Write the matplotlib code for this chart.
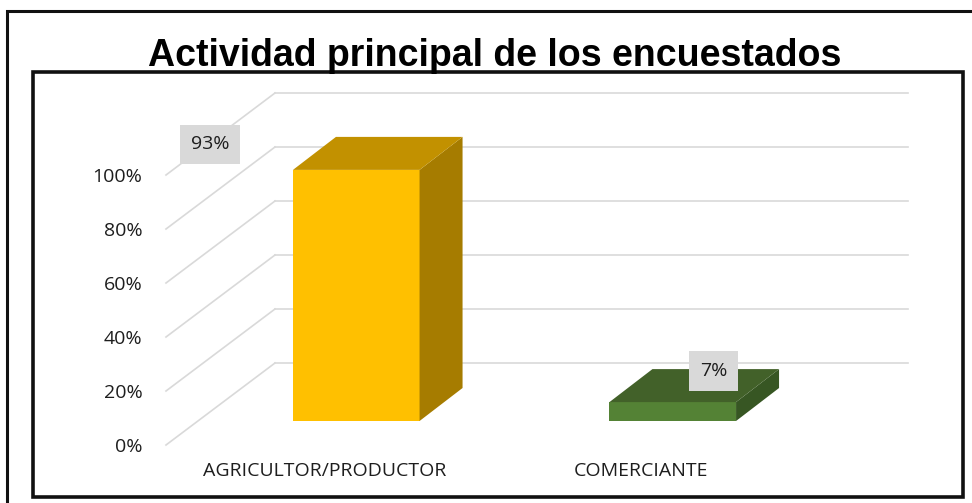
import matplotlib
matplotlib.use("Agg")
import matplotlib.pyplot as plt
from matplotlib.patches import Polygon, Rectangle
from matplotlib.transforms import Affine2D

# data
categories = ["AGRICULTOR/PRODUCTOR", "COMERCIANTE"]
values = [0.93, 0.07]
value_labels = ["93%", "7%"]
label_pos = [(-0.36, 1.113), (1.23, 0.274)]
ticks = [0.0, 0.2, 0.4, 0.6, 0.8, 1.0]
tick_labels = ["0%", "20%", "40%", "60%", "80%", "100%"]

front_colors = ["#FFC000", "#548235"]
top_colors = ["#C29100", "#426129"]
side_colors = ["#A67C00", "#375623"]

# depth offsets in pixels (oblique projection of the 3D chart)
WALL_DX, WALL_DY = 109, 82
BAR_DX, BAR_DY = 32, 24
BAR_DEPTH_X, BAR_DEPTH_Y = 43, 33
BAR_WIDTH = 0.40
GRID = "#D9D9D9"
TEXT = "#1E1E1E"

fig = plt.figure(figsize=(9.72, 5.03), dpi=100)
fig.patch.set_facecolor("white")

# outer frame (runs off right/bottom edges) and inner chart frame
top_y = 1 - 11 / 503
fig.patches.append(Rectangle((7 / 972, -0.2), 1.2, top_y + 0.2,
                             transform=fig.transFigure, fill=False, lw=2.2, ec="#111111"))
fig.patches.append(Rectangle((33 / 972, 6 / 503), 930 / 972, 425 / 503,
                             transform=fig.transFigure, fill=False, lw=2.6, ec="#111111"))

fig.text(495 / 972, 1 - 56 / 503, "Actividad principal de los encuestados",
         ha="center", va="center", fontsize=27, fontweight="bold",
         family="Liberation Sans")

ax = fig.add_axes([166 / 972, 58 / 503, 633 / 972, 270 / 503])
ax.set_xlim(-0.5, len(categories) - 0.5)
ax.set_ylim(0, 1.0)
for s in ax.spines.values():
    s.set_visible(False)
ax.patch.set_alpha(0)


def shifted(dx, dy):
    return ax.transData + Affine2D().translate(dx, dy)


# gridlines: diagonal on the floor/side wall plus horizontal on back wall
x0, x1 = ax.get_xlim()
for t in ticks:
    p = ax.transData.transform((x0, t))
    ax.plot([p[0], p[0] + WALL_DX], [p[1], p[1] + WALL_DY], color=GRID, lw=1.2,
            transform=None, clip_on=False)
    ax.plot([x0, x1], [t, t], color=GRID, lw=1.2, clip_on=False,
            transform=shifted(WALL_DX, WALL_DY))

# bars with side and top faces
for i, v in enumerate(values):
    left = i - BAR_WIDTH / 2
    right = i + BAR_WIDTH / 2
    ax.bar(i, v, width=BAR_WIDTH, color=front_colors[i], zorder=3,
           transform=shifted(BAR_DX, BAR_DY), clip_on=False)
    pr0 = ax.transData.transform((right, 0))
    pr1 = ax.transData.transform((right, v))
    pl1 = ax.transData.transform((left, v))
    ox, oy = BAR_DX, BAR_DY
    dx, dy = BAR_DEPTH_X, BAR_DEPTH_Y
    side = [(pr0[0] + ox, pr0[1] + oy), (pr1[0] + ox, pr1[1] + oy),
            (pr1[0] + ox + dx, pr1[1] + oy + dy), (pr0[0] + ox + dx, pr0[1] + oy + dy)]
    top = [(pl1[0] + ox, pl1[1] + oy), (pr1[0] + ox, pr1[1] + oy),
           (pr1[0] + ox + dx, pr1[1] + oy + dy), (pl1[0] + ox + dx, pl1[1] + oy + dy)]
    ax.add_patch(Polygon(side, closed=True, fc=side_colors[i], ec="none",
                         transform=None, zorder=3, clip_on=False))
    ax.add_patch(Polygon(top, closed=True, fc=top_colors[i], ec="none",
                         transform=None, zorder=3, clip_on=False))

for (lx, ly), txt in zip(label_pos, value_labels):
    ax.text(lx, ly, txt, ha="center", va="center", fontsize=14, family="Open Sans",
            color=TEXT, zorder=5, clip_on=False,
            bbox=dict(boxstyle="square,pad=0.55", fc="#D9D9D9", ec="none"))

ax.set_yticks(ticks)
ax.set_yticklabels(tick_labels, fontsize=14, family="Open Sans", color=TEXT)
ax.set_xticks(range(len(categories)))
ax.set_xticklabels(categories, fontsize=14, family="Open Sans", color=TEXT)
ax.tick_params(axis="y", length=0, pad=17)
ax.tick_params(axis="x", length=0, pad=12)

fig.savefig("out.png", dpi=100, facecolor="white")
